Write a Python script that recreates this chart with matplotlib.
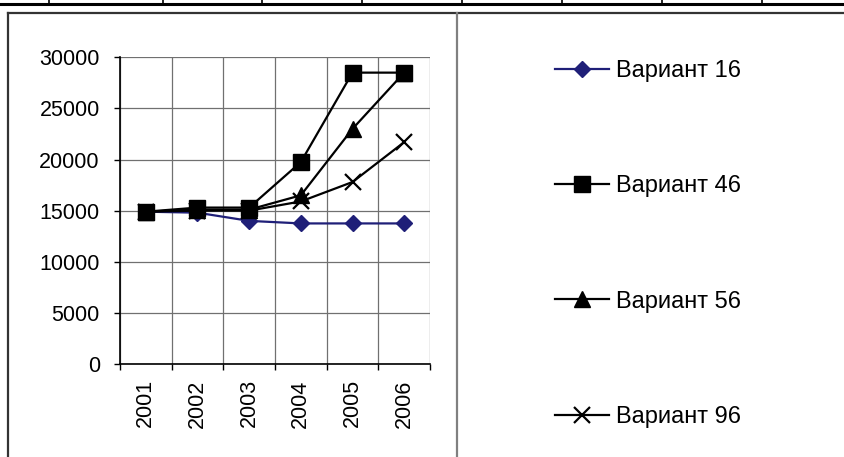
import matplotlib
matplotlib.use("Agg")
import matplotlib.pyplot as plt
from matplotlib.lines import Line2D

plt.rcParams['font.family'] = ['Liberation Sans', 'DejaVu Sans']

years = ['2001', '2002', '2003', '2004', '2005', '2006']
var16 = [14900, 14800, 14000, 13750, 13750, 13750]
var46 = [14900, 15300, 15300, 19750, 28500, 28500]
var56 = [14900, 15100, 15100, 16500, 23000, 28500]
var96 = [14900, 15000, 15000, 15900, 17800, 21700]
names = ['Вариант 16', 'Вариант 46', 'Вариант 56', 'Вариант 96']

W, H = 845, 457
fig = plt.figure(figsize=(W / 100, H / 100), dpi=100)


def fx(x):
    return x / W


def fy(y):
    return 1 - y / H


def fline(xs, ys, **kw):
    fig.add_artist(Line2D([fx(x) for x in xs], [fy(y) for y in ys],
                          transform=fig.transFigure, **kw))


# table row at the very top
fline([0, W], [4, 4], color='black', lw=2.2)
for x in [49, 163, 262, 362, 462, 562, 662, 762]:
    fline([x, x], [0, 4], color='black', lw=1.2)

# chart frame
fline([8.3, W], [13, 13], color='#333333', lw=1.6)
fline([8.3, 8.3], [13, H], color='#333333', lw=1.6)
fline([457.3, 457.3], [13, H], color='#808080', lw=1.6)

ax = fig.add_axes([fx(120), fy(364), fx(430) - fx(120), fy(57.3) - fy(364)])
xs = list(range(len(years)))

ln16, = ax.plot(xs, var16, color='#1f1f78', lw=1.6, marker='D', ms=8.5,
                mfc='#1f1f78', mec='#1f1f78', zorder=3, clip_on=False)
ln96, = ax.plot(xs, var96, color='black', lw=1.6, marker='x', ms=11,
                mew=1.6, zorder=4, clip_on=False)
ln56, = ax.plot(xs, var56, color='black', lw=1.6, marker='^', ms=11,
                zorder=5, clip_on=False)
ln46, = ax.plot(xs, var46, color='black', lw=1.6, marker='s', ms=11,
                zorder=6, clip_on=False)

ax.set_xlim(-0.5, len(years) - 0.5)
ax.set_ylim(0, 30000)
ax.set_yticks(range(0, 30001, 5000))
ax.set_xticks(xs)
ax.set_xticklabels(years, rotation=90, fontsize=15.5)
ax.set_xticks([x - 0.5 for x in range(len(years) + 1)], minor=True)
ax.tick_params(axis='x', which='major', length=0, pad=11)
ax.tick_params(axis='x', which='minor', length=4.5, width=1, color='black')
ax.tick_params(axis='y', length=4.5, width=1, pad=10, labelsize=15.5)

ax.grid(True, axis='y', color='#707070', lw=0.9)
ax.grid(True, axis='x', which='minor', color='#707070', lw=0.9)
ax.set_axisbelow(True)
for s in ['top', 'right']:
    ax.spines[s].set_visible(False)
for s in ['left', 'bottom']:
    ax.spines[s].set_color('black')
    ax.spines[s].set_linewidth(1.2)

fig.legend([ln16, ln46, ln56, ln96], names, loc='upper left',
           bbox_to_anchor=(fx(555), fy(60)), frameon=False, fontsize=17,
           handlelength=2.3, handletextpad=0.3, labelspacing=3.95,
           borderpad=0, borderaxespad=0)

fig.savefig('out.png', dpi=100)
